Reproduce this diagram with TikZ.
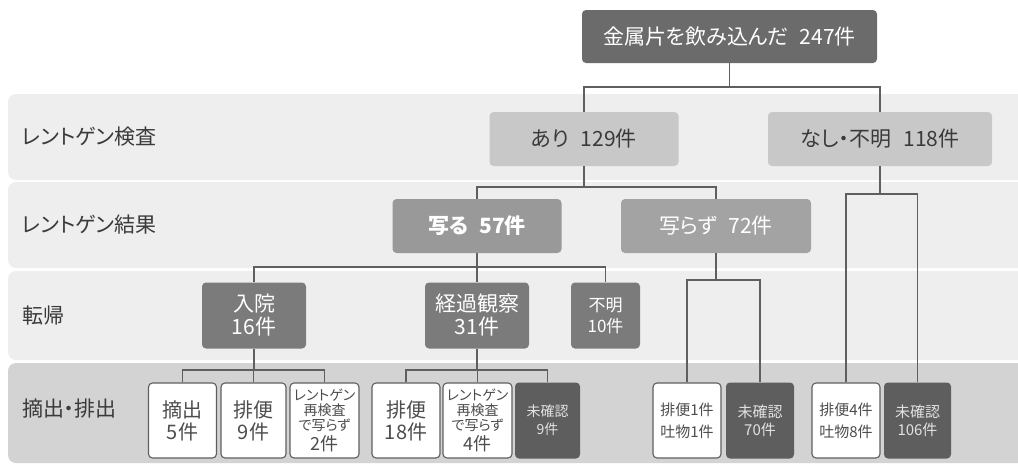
\documentclass[tikz,border=0pt]{standalone}
\usepackage{fontspec}
\setmainfont{Noto Sans CJK JP}[RawFeature=+palt]
\definecolor{topC}{HTML}{6B6B6B}
\definecolor{lightC}{HTML}{C8C8C8}
\definecolor{utsuruC}{HTML}{999999}
\definecolor{utsurazuC}{HTML}{A3A3A3}
\definecolor{midC}{HTML}{7B7B7B}
\definecolor{darkC}{HTML}{5E5E5E}
\definecolor{bandA}{HTML}{EEEEEE}
\definecolor{bandB}{HTML}{D3D3D3}
\definecolor{lineC}{HTML}{5F5F5F}
\definecolor{txtA}{HTML}{3A3A3A}
\definecolor{txtB}{HTML}{4D4D4D}
\definecolor{txtC}{HTML}{E2E2E2}
\newcommand\fs[2]{\fontsize{#1}{#2}\selectfont}
\begin{document}
\begin{tikzpicture}[x=1pt,y=-1pt,
  every node/.style={inner sep=0pt, align=center},
  bx/.style={rounded corners=4pt},
  topbox/.style={bx, fill=topC, text=white, font=\fs{21}{24}},
  lightbox/.style={bx, fill=lightC, text=txtA, font=\fs{21}{24}},
  midbox/.style={bx, fill=midC, text=white},
  whitebox/.style={bx, fill=white, draw=lineC, line width=1.1pt, text=txtB, minimum height=75pt},
  darkbox/.style={bx, fill=darkC, text=txtC, minimum height=76pt},
  rowlabel/.style={anchor=west, text=txtA, font=\fs{21}{24}},
  conn/.style={draw=lineC, line width=1.4pt},
  band/.style={fill=#1, rounded corners=8pt}
]
\useasboundingbox (0,0) rectangle (1018,464);
% bands
\path[band=bandA] (8,94) rectangle (1040,180);
\path[band=bandA] (8,182) rectangle (1040,268);
\path[band=bandA] (8,271) rectangle (1040,360);
\path[band=bandB] (8,363) rectangle (1040,463);
% row labels
\node[rowlabel] (l1) at (22,137) {レントゲン検査};
\node[rowlabel] (l2) at (22,225) {レントゲン結果};
\node[rowlabel] (l3) at (22,316) {転帰};
\node[rowlabel] (l4) at (22,409) {摘出・排出};
% level nodes
\node[topbox, minimum width=295pt, minimum height=53pt] (top) at (729.5,36.5) {金属片を飲み込んだ\hspace{11pt}247件};
\node[lightbox, minimum width=189pt, minimum height=54pt] (ari) at (584,139) {あり\hspace{12pt}129件};
\node[lightbox, minimum width=224pt, minimum height=54pt] (nashi) at (880,139) {なし・不明\hspace{12pt}118件};
\node[bx, fill=utsuruC, text=white, font=\fs{21}{24}\bfseries, minimum width=169pt, minimum height=54pt] (utsuru) at (477,226) {写る\hspace{11pt}57件};
\node[bx, fill=utsurazuC, text=white, font=\fs{21}{24}, minimum width=190pt, minimum height=54pt] (utsurazu) at (716,226) {写らず\hspace{11pt}72件};
\node[midbox, font=\fs{21}{23}, minimum width=104pt, minimum height=66pt] (nyuin) at (254,315.5) {入院\\16件};
\node[midbox, font=\fs{21}{23}, minimum width=104pt, minimum height=66pt] (keika) at (477,315.5) {経過観察\\31件};
\node[midbox, font=\fs{17}{21}, minimum width=69pt, minimum height=66pt] (fumei) at (605.5,315.5) {不明\\10件};
% bottom row
\node[whitebox, font=\fs{20}{22}, minimum width=68pt] (b1) at (182.5,420.5) {摘出\\5件};
\node[whitebox, font=\fs{20}{22}, minimum width=65pt] (b2) at (253.5,420.5) {排便\\9件};
\node[whitebox, font=\fs{14}{15}, minimum width=69pt] (b3) at (324.5,420.5) {レントゲン\\再検査\\で写らず\\[3pt]{\fs{18}{18}2件}};
\node[whitebox, font=\fs{20}{22}, minimum width=68pt] (b4) at (406,420.5) {排便\\18件};
\node[whitebox, font=\fs{14}{15}, minimum width=69pt] (b5) at (477.5,420.5) {レントゲン\\再検査\\で写らず\\[3pt]{\fs{18}{18}4件}};
\node[darkbox, font=\fs{14}{18}, minimum width=65pt] (b6) at (547.5,420.5) {未確認\\9件};
\node[whitebox, font=\fs{15}{22}, minimum width=68pt] (b7) at (687,420.5) {排便1件\\吐物1件};
\node[darkbox, font=\fs{15}{18}, minimum width=68pt] (b8) at (760,420.5) {未確認\\70件};
\node[whitebox, font=\fs{15}{22}, minimum width=68pt] (b9) at (846,420.5) {排便4件\\吐物8件};
\node[darkbox, font=\fs{15}{18}, minimum width=67pt] (b10) at (917.5,420.5) {未確認\\106件};
% junction levels
\coordinate (j1) at (0,87);
\coordinate (j2) at (0,187);
\coordinate (j3) at (0,194);
\coordinate (j4) at (0,267);
\coordinate (j5) at (0,280);
\coordinate (j6) at (0,370);
% connectors
\draw[conn] (top.south) -- (top.south |- j1);
\draw[conn] (ari.north) |- (nashi.north |- j1) -- (nashi.north);
\draw[conn] (ari.south) -- (ari.south |- j2);
\draw[conn] (utsuru.north) |- (utsurazu.north |- j2) -- (utsurazu.north);
\draw[conn] (nashi.south) -- (nashi.south |- j3);
\draw[conn] (b9.north) |- (b10.north |- j3) -- (b10.north);
\draw[conn] (utsuru.south) -- (utsuru.south |- j4);
\draw[conn] (nyuin.north) |- (fumei.north |- j4) -- (fumei.north);
\draw[conn] (keika.north) -- (keika.north |- j4);
\draw[conn] (utsurazu.south) -- (utsurazu.south |- j5);
\draw[conn] (b7.north) |- (b8.north |- j5) -- (b8.north);
\draw[conn] (nyuin.south) -- (nyuin.south |- j6);
\draw[conn] (b1.north) |- (b3.north |- j6) -- (b3.north);
\draw[conn] (b2.north) -- (b2.north |- j6);
\draw[conn] (keika.south) -- (keika.south |- j6);
\draw[conn] (b4.north) |- (b6.north |- j6) -- (b6.north);
\draw[conn] (b5.north) -- (b5.north |- j6);
\end{tikzpicture}
\end{document}
